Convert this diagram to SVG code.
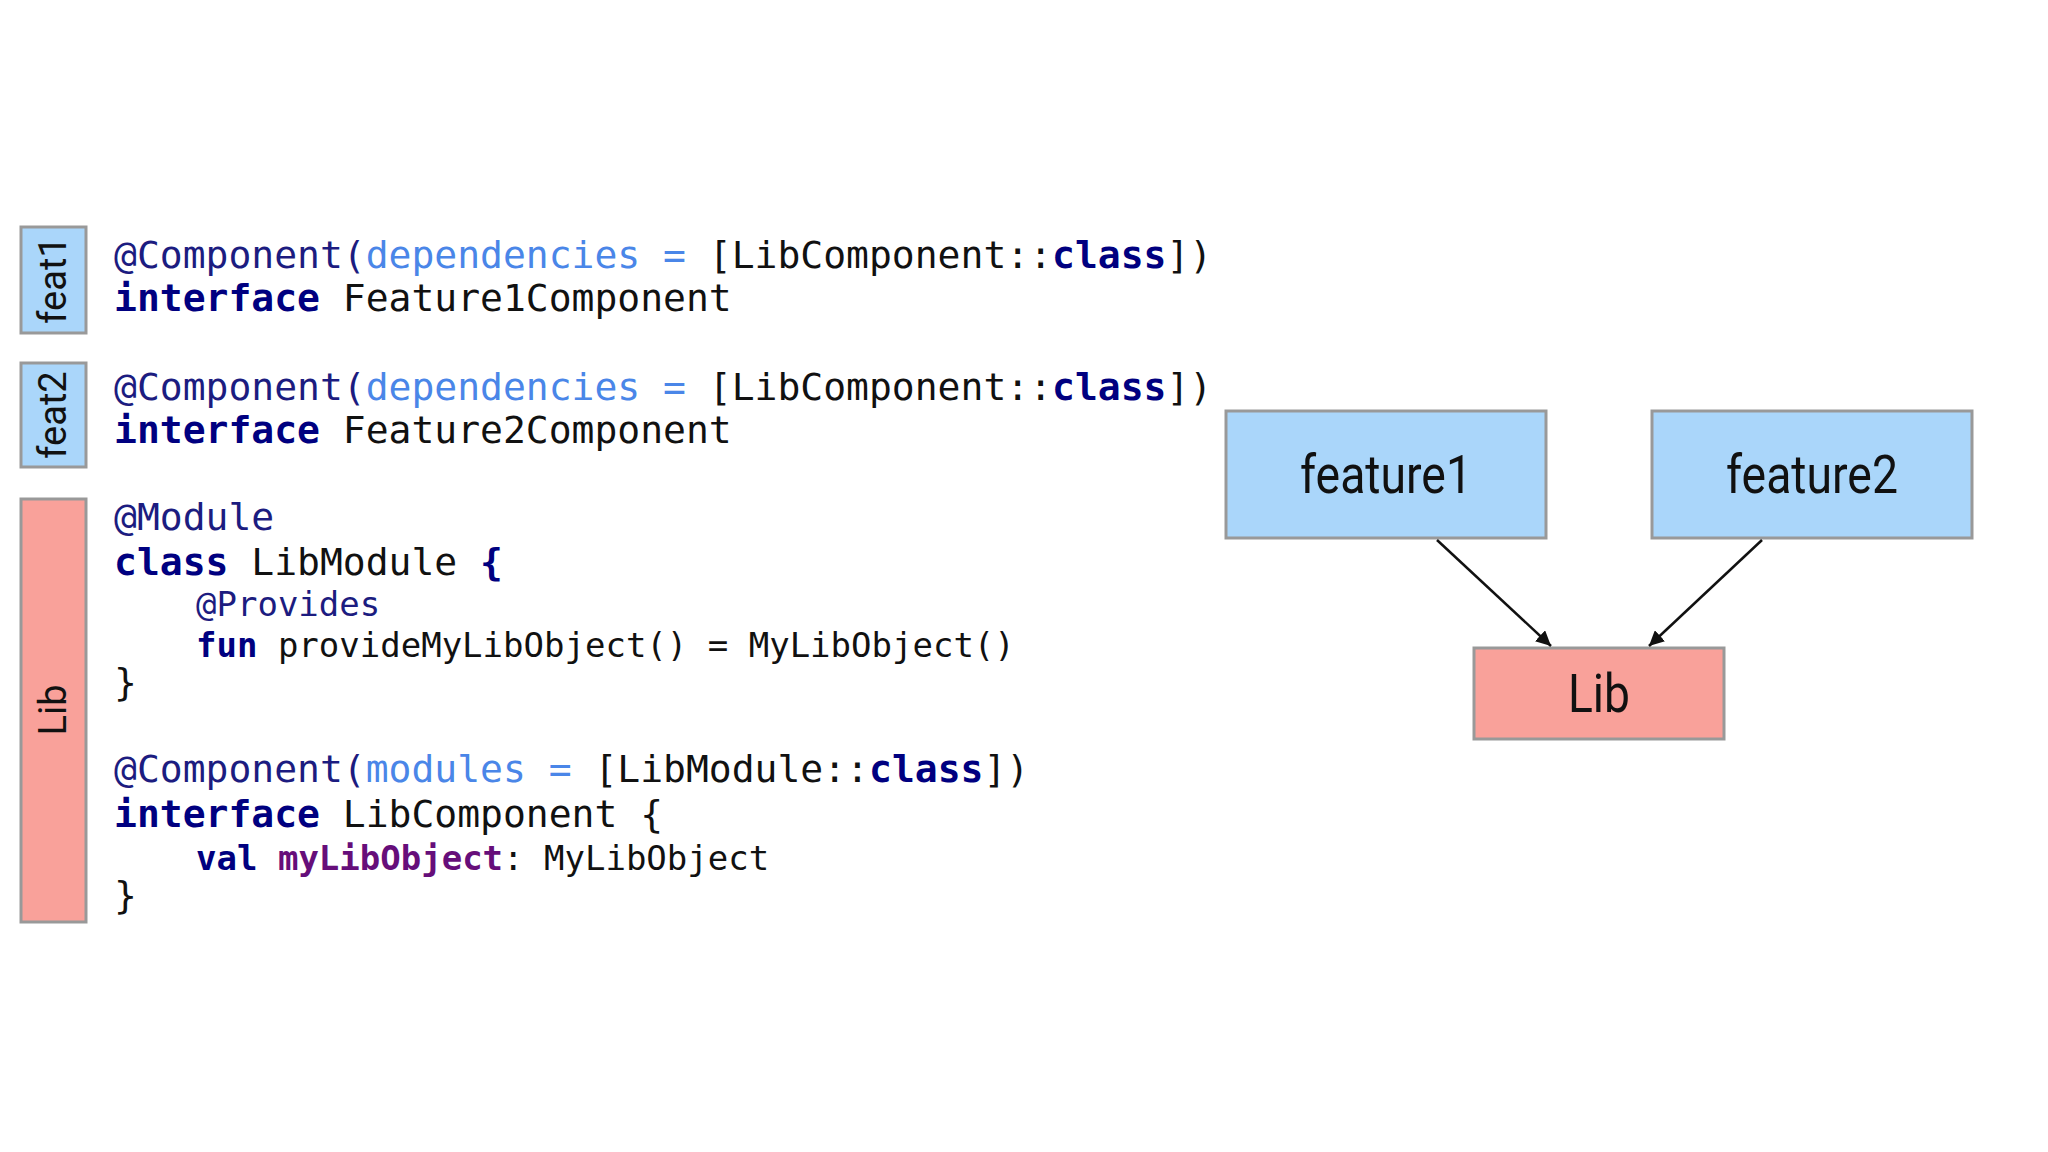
<svg xmlns="http://www.w3.org/2000/svg" width="2048" height="1152" viewBox="0 0 2048 1152">
<defs>
<style>
.code{font-family:"DejaVu Sans Mono","Liberation Mono",monospace;font-size:38px;fill:#111;white-space:pre}
.sm{font-size:34px}
.kw{fill:#000080;font-weight:bold}
.an{fill:#1c1c80}
.arg{fill:#4a86e8}
.prop{fill:#660e7a;font-weight:bold}
.blue{fill:#aad6fa;stroke:#999;stroke-width:3}
.red{fill:#f9a19a;stroke:#999;stroke-width:3}
.lab{font-family:Roboto,"Liberation Sans",sans-serif;fill:#111}
.conn{stroke:#111;stroke-width:2.5;fill:none;marker-end:url(#ah)}
</style>
<marker id="ah" viewBox="0 0 10 10" refX="10" refY="5" markerWidth="6" markerHeight="6" orient="auto"><path d="M0,0 L10,5 L0,10 z" fill="#111"/></marker>
</defs>
<rect width="2048" height="1152" fill="#fff"/>
<g id="feat1-tag"><rect class="blue" x="21" y="227" width="65" height="106"/><text class="lab" font-size="38" transform="translate(66,280) rotate(-90)" text-anchor="middle">feat1</text></g>
<g id="feat2-tag"><rect class="blue" x="21" y="363" width="65" height="104"/><text class="lab" font-size="38" transform="translate(66,415) rotate(-90)" text-anchor="middle">feat2</text></g>
<g id="lib-tag"><rect class="red" x="21" y="499" width="65" height="423"/><text class="lab" font-size="38" transform="translate(66,710) rotate(-90)" text-anchor="middle">Lib</text></g>
<g id="code">
<text class="code" x="114" y="268"><tspan class="an">@Component(</tspan><tspan class="arg">dependencies = </tspan>[LibComponent::<tspan class="kw">class</tspan>])</text>
<text class="code" x="114" y="311"><tspan class="kw">interface</tspan> Feature1Component</text>
<text class="code" x="114" y="400"><tspan class="an">@Component(</tspan><tspan class="arg">dependencies = </tspan>[LibComponent::<tspan class="kw">class</tspan>])</text>
<text class="code" x="114" y="443"><tspan class="kw">interface</tspan> Feature2Component</text>
<text class="code" x="114" y="530"><tspan class="an">@Module</tspan></text>
<text class="code" x="114" y="575"><tspan class="kw">class</tspan> LibModule <tspan class="kw">{</tspan></text>
<text class="code sm" x="196" y="616"><tspan class="an">@Provides</tspan></text>
<text class="code sm" x="196" y="657"><tspan class="kw">fun</tspan> provideMyLibObject() = MyLibObject()</text>
<text class="code" x="114" y="695">}</text>
<text class="code" x="114" y="782"><tspan class="an">@Component(</tspan><tspan class="arg">modules = </tspan>[LibModule::<tspan class="kw">class</tspan>])</text>
<text class="code" x="114" y="827"><tspan class="kw">interface</tspan> LibComponent {</text>
<text class="code sm" x="196" y="870"><tspan class="kw">val</tspan> <tspan class="prop">myLibObject</tspan>: MyLibObject</text>
<text class="code" x="114" y="908">}</text>
</g>
<g id="feature1"><rect class="blue" x="1226" y="411" width="320" height="127"/><text class="lab" font-size="54" x="1386" y="493" text-anchor="middle" textLength="172" lengthAdjust="spacingAndGlyphs">feature1</text></g>
<g id="feature2"><rect class="blue" x="1652" y="411" width="320" height="127"/><text class="lab" font-size="54" x="1812" y="493" text-anchor="middle" textLength="172" lengthAdjust="spacingAndGlyphs">feature2</text></g>
<g id="lib"><rect class="red" x="1474" y="648" width="250" height="91"/><text class="lab" font-size="54" x="1599" y="712" text-anchor="middle" textLength="62" lengthAdjust="spacingAndGlyphs">Lib</text></g>
<g id="connectors">
<line class="conn" x1="1437" y1="540" x2="1551" y2="646"/>
<line class="conn" x1="1762" y1="540" x2="1649" y2="646"/>
</g>
</svg>
